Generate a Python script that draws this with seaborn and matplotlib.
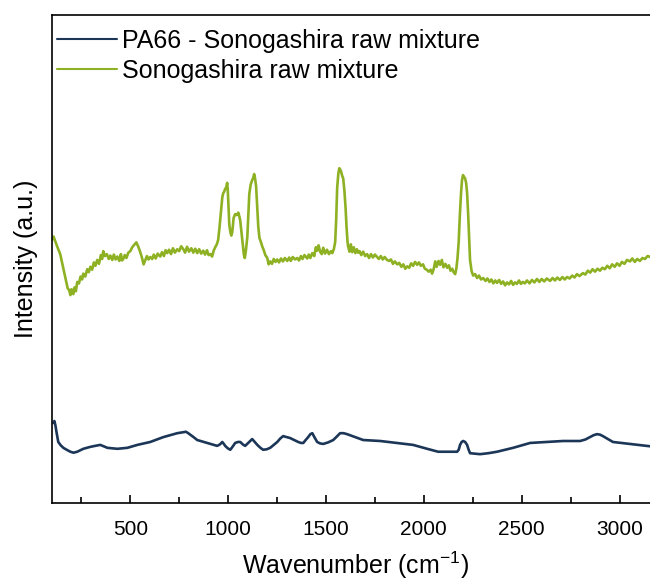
import matplotlib
matplotlib.use("Agg")
import matplotlib.pyplot as plt
from matplotlib.ticker import MultipleLocator
import pandas as pd
import seaborn as sns

# Raman spectrum of the Sonogashira raw mixture (wavenumber in cm^-1, intensity in a.u.)
sono_wn = [100, 108, 117, 128, 142, 155, 168, 180, 188, 194, 200, 209, 216, 222, 229,
           238, 246, 254, 260, 270, 280, 288, 296, 305, 314, 322, 331, 340, 350, 356,
           362, 370, 380, 390, 398, 408, 416, 425, 434, 444, 452, 458, 464, 472, 480,
           490, 500, 510, 520, 531, 540, 551, 560, 568, 577, 585, 593, 602, 612, 620,
           630, 640, 653, 662, 672, 680, 689, 698, 708, 718, 728, 740, 750, 760, 771,
           780, 790, 800, 812, 822, 832, 842, 852, 862, 873, 882, 892, 900, 909, 918,
           926, 934, 942, 949, 956, 965, 970, 975, 980, 985, 990, 995, 998, 1002,
           1006, 1011, 1016, 1021, 1028, 1036, 1044, 1052, 1058, 1062, 1068, 1074,
           1080, 1085, 1090, 1098, 1104, 1108, 1115, 1123, 1128, 1133, 1138, 1143,
           1148, 1154, 1160, 1168, 1174, 1182, 1190, 1200, 1207, 1215, 1224, 1233,
           1242, 1251, 1260, 1270, 1280, 1290, 1302, 1312, 1320, 1330, 1342, 1353,
           1362, 1372, 1380, 1390, 1404, 1412, 1420, 1430, 1440, 1448, 1455, 1462,
           1470, 1478, 1486, 1495, 1505, 1515, 1525, 1532, 1540, 1547, 1552, 1557,
           1563, 1568, 1572, 1578, 1583, 1588, 1594, 1600, 1605, 1610, 1613, 1620,
           1627, 1634, 1642, 1650, 1658, 1664, 1672, 1680, 1690, 1700, 1710, 1720,
           1730, 1740, 1750, 1761, 1770, 1780, 1790, 1800, 1812, 1822, 1832, 1842,
           1852, 1864, 1874, 1885, 1895, 1905, 1915, 1925, 1935, 1945, 1955, 1966,
           1975, 1985, 1996, 2005, 2015, 2025, 2035, 2042, 2050, 2058, 2065, 2075,
           2083, 2092, 2100, 2110, 2119, 2128, 2136, 2145, 2152, 2160, 2166, 2172,
           2178, 2184, 2190, 2195, 2200, 2205, 2210, 2216, 2221, 2226, 2231, 2236,
           2244, 2252, 2262, 2272, 2282, 2292, 2303, 2315, 2325, 2335, 2345, 2355,
           2365, 2374, 2385, 2395, 2405, 2415, 2425, 2435, 2446, 2456, 2466, 2476,
           2486, 2496, 2506, 2516, 2527, 2540, 2552, 2565, 2578, 2590, 2602, 2615,
           2628, 2645, 2658, 2670, 2682, 2695, 2708, 2720, 2732, 2745, 2758, 2770,
           2782, 2795, 2813, 2825, 2838, 2850, 2862, 2875, 2887, 2900, 2912, 2925,
           2937, 2950, 2962, 2975, 2987, 3000, 3012, 3025, 3038, 3053, 3065, 3078,
           3090, 3104, 3117, 3130, 3143, 3156, 3175, 3200]
sono_int = [53.9, 54.6, 53.6, 52.4, 51.0, 48.6, 46.3, 44.0, 43.6, 42.6, 43.8, 42.8,
            44.2, 43.4, 45.3, 45.0, 46.4, 45.8, 47.0, 46.4, 47.9, 47.3, 48.4, 47.8,
            49.3, 48.6, 49.8, 49.0, 50.8, 50.0, 51.6, 50.6, 51.0, 50.0, 50.7, 49.8,
            50.9, 49.9, 50.5, 49.6, 51.0, 49.7, 50.0, 50.8, 50.2, 51.3, 51.6, 52.4,
            52.9, 53.4, 52.6, 51.4, 50.2, 48.9, 49.8, 50.6, 49.9, 50.4, 50.0, 50.9,
            50.1, 51.1, 50.5, 51.4, 50.6, 51.8, 51.2, 51.9, 51.0, 52.2, 51.3, 52.0,
            51.6, 52.6, 52.0, 51.3, 52.5, 51.5, 52.2, 51.3, 52.1, 51.2, 52.0, 51.1,
            51.7, 50.9, 51.8, 50.8, 51.0, 50.5, 51.7, 52.4, 53.0, 53.9, 56.5, 60.5,
            62.6, 63.5, 63.8, 64.4, 64.6, 65.6, 64.2, 60.8, 57.0, 55.6, 54.8, 55.5,
            58.4, 59.2, 59.0, 59.5, 58.6, 57.8, 55.5, 53.0, 51.0, 50.2, 51.5, 54.5,
            60.0, 63.3, 65.2, 66.2, 66.6, 67.4, 66.4, 64.8, 61.0, 56.6, 54.3, 53.4,
            52.6, 51.8, 50.8, 50.2, 48.9, 49.5, 49.0, 50.0, 49.4, 49.9, 49.3, 50.1,
            49.5, 50.2, 49.6, 50.3, 49.6, 50.4, 49.9, 50.2, 49.7, 50.6, 50.0, 50.8,
            50.1, 50.9, 50.2, 51.2, 50.6, 52.4, 51.7, 52.8, 51.5, 51.0, 52.3, 51.1,
            51.9, 51.0, 51.6, 51.2, 52.0, 53.5, 58.0, 64.5, 67.5, 68.6, 68.4, 67.8,
            67.0, 66.5, 64.0, 60.5, 56.5, 53.5, 52.6, 51.5, 53.0, 51.4, 52.4, 51.2,
            52.0, 51.3, 51.6, 50.8, 51.5, 50.6, 51.0, 50.2, 51.0, 50.3, 50.9, 50.4,
            50.0, 50.6, 49.9, 50.4, 49.8, 49.6, 49.9, 49.0, 49.5, 48.9, 49.2, 48.4,
            48.9, 48.0, 48.5, 48.2, 49.1, 48.6, 49.4, 48.8, 49.3, 48.6, 48.9, 48.0,
            47.8, 47.4, 47.8, 47.0, 47.9, 49.5, 48.4, 49.6, 48.8, 49.8, 48.3, 49.0,
            48.2, 48.7, 47.6, 48.0, 47.3, 46.9, 48.0, 50.2, 53.5, 59.0, 63.5, 66.2,
            67.2, 66.8, 66.6, 65.6, 63.5, 59.5, 54.5, 49.8, 47.5, 46.6, 46.9, 46.1,
            46.6, 45.8, 46.1, 45.5, 46.0, 45.3, 45.8, 45.0, 45.6, 45.1, 45.7, 44.9,
            45.4, 44.6, 45.2, 44.8, 45.5, 44.7, 45.2, 44.9, 45.6, 44.9, 45.3, 45.0,
            45.6, 45.0, 45.7, 45.2, 45.9, 45.3, 45.9, 45.4, 46.0, 45.5, 46.1, 45.6,
            46.2, 45.7, 46.3, 45.8, 46.3, 46.0, 46.6, 46.2, 46.9, 46.5, 47.1, 46.8,
            47.6, 47.2, 47.9, 47.4, 48.0, 47.6, 48.2, 47.9, 48.6, 48.1, 48.9, 48.4,
            49.1, 48.6, 49.4, 49.0, 49.8, 49.5, 50.1, 49.4, 50.0, 49.6, 50.2, 50.0,
            50.6, 50.4, 51.0, 51.3]

# Raman spectrum of PA66 loaded with the Sonogashira raw mixture
pa66_wn = [107, 112, 117, 124, 132, 145, 158, 175, 194, 210, 229, 245, 260, 278,
           296, 320, 347, 365, 383, 410, 434, 460, 485, 510, 536, 570, 602, 635,
           669, 705, 740, 757, 771, 784, 796, 820, 842, 868, 893, 920, 944, 958,
           970, 978, 985, 998, 1011, 1024, 1036, 1050, 1062, 1075, 1087, 1105,
           1123, 1136, 1149, 1165, 1179, 1197, 1215, 1233, 1251, 1266, 1281,
           1300, 1317, 1338, 1358, 1372, 1384, 1396, 1409, 1420, 1430, 1442,
           1455, 1470, 1486, 1510, 1537, 1555, 1572, 1590, 1608, 1628, 1649,
           1670, 1690, 1735, 1777, 1820, 1864, 1905, 1945, 1980, 2017, 2045,
           2073, 2119, 2150, 2170, 2178, 2185, 2193, 2201, 2211, 2221, 2229,
           2236, 2260, 2287, 2330, 2374, 2415, 2456, 2500, 2543, 2587, 2630,
           2670, 2711, 2755, 2798, 2825, 2849, 2868, 2885, 2900, 2915, 2940,
           2966, 3010, 3053, 3097, 3140, 3200]
pa66_int = [16.4, 16.8, 16.0, 14.3, 12.5, 11.8, 11.3, 10.9, 10.5, 10.3, 10.5, 10.8,
            11.1, 11.3, 11.5, 11.7, 11.9, 11.6, 11.3, 11.2, 11.1, 11.2, 11.3, 11.6,
            11.9, 12.2, 12.5, 13.0, 13.5, 13.9, 14.3, 14.4, 14.5, 14.6, 14.3, 13.6,
            12.9, 12.6, 12.3, 12.0, 11.7, 12.0, 12.5, 12.1, 11.7, 11.2, 10.9, 11.6,
            12.3, 12.5, 12.5, 12.0, 11.7, 12.4, 13.1, 12.5, 11.9, 11.3, 10.9, 11.0,
            11.3, 11.9, 12.5, 13.2, 13.7, 13.5, 13.3, 12.9, 12.5, 12.3, 12.3, 12.9,
            13.5, 14.1, 14.3, 13.4, 12.5, 12.2, 12.1, 12.4, 12.9, 13.6, 14.3, 14.3,
            14.1, 13.8, 13.5, 13.2, 12.9, 12.8, 12.7, 12.5, 12.3, 12.1, 11.9, 11.5,
            11.1, 10.8, 10.5, 10.5, 10.5, 10.5, 10.9, 11.9, 12.5, 12.7, 12.5, 11.9,
            10.9, 10.2, 10.1, 10.0, 10.2, 10.5, 10.9, 11.3, 11.8, 12.3, 12.4, 12.5,
            12.6, 12.7, 12.7, 12.7, 13.0, 13.5, 13.9, 14.1, 14.0, 13.7, 13.1, 12.5,
            12.3, 12.1, 11.9, 11.7, 11.4]

labels = ["PA66 - Sonogashira raw mixture", "Sonogashira raw mixture"]
colors = ["#1c3658", "#8db123"]

df = pd.concat([
    pd.DataFrame({"wavenumber": pa66_wn, "intensity": pa66_int, "sample": labels[0]}),
    pd.DataFrame({"wavenumber": sono_wn, "intensity": sono_int, "sample": labels[1]}),
], ignore_index=True)

sns.set_theme(style="white")
plt.rcParams["font.family"] = ["Liberation Sans", "DejaVu Sans"]
plt.rcParams["text.color"] = "black"
plt.rcParams["axes.labelcolor"] = "black"

fig = plt.figure(figsize=(6.5, 5.81), dpi=100)
ax = fig.add_axes([0.08, 0.1343, 0.9334, 0.8399])

sns.lineplot(data=df, x="wavenumber", y="intensity", hue="sample",
             hue_order=labels, palette=colors, estimator=None, sort=False,
             linewidth=1.9, ax=ax)

ax.set_xlim(100, 3200)
ax.set_ylim(0, 100)
ax.xaxis.set_major_locator(MultipleLocator(500))
ax.xaxis.set_minor_locator(MultipleLocator(250))
ax.set_yticks([])
ax.tick_params(axis="x", which="both", direction="in", bottom=True, top=False,
               labelsize=15, pad=12, colors="black")
ax.tick_params(axis="x", which="major", length=6, width=1.2)
ax.tick_params(axis="x", which="minor", length=4, width=1.2)

for s in ax.spines.values():
    s.set_color("black")
    s.set_linewidth(1.2)

ax.set_xlabel("Wavenumber (cm$^{\\mathregular{-1}}$)", fontsize=18, labelpad=8)
ax.set_ylabel("Intensity (a.u.)", fontsize=18, labelpad=10)

leg = ax.legend(loc="upper left", bbox_to_anchor=(0.008, 0.972), frameon=False,
                fontsize=18, handlelength=2.4, handletextpad=0.2,
                labelspacing=0.25, borderpad=0, borderaxespad=0)
for line in leg.get_lines():
    line.set_linewidth(1.5)

fig.savefig("out.png", dpi=100)
